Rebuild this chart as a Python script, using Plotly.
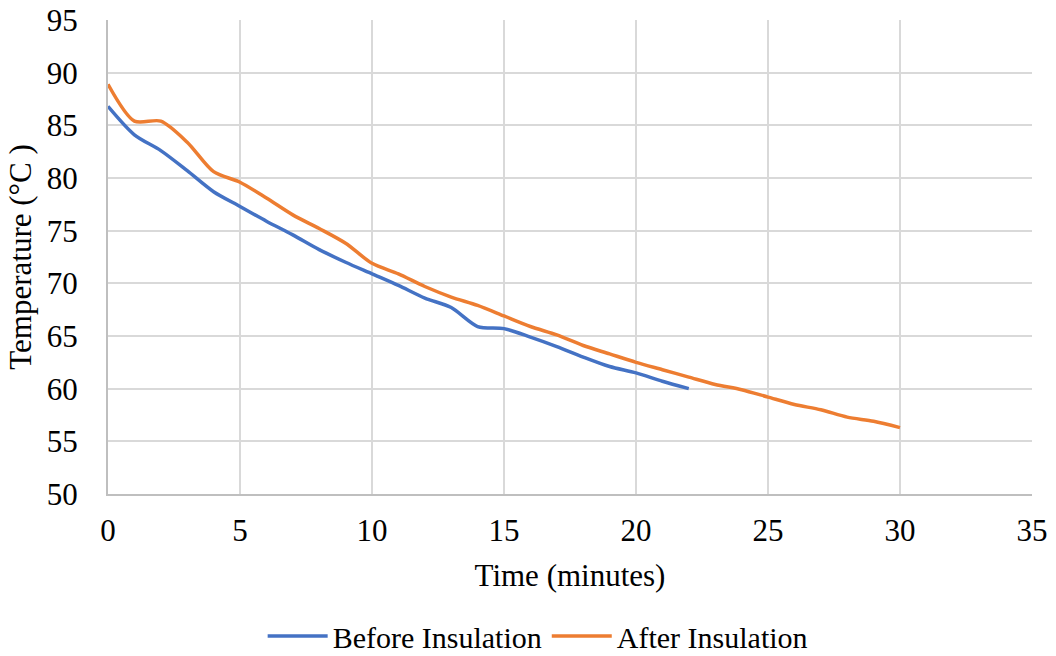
import plotly.graph_objects as go

time_before = list(range(0, 23))
temp_before = [86.8, 84.1, 82.6, 80.7, 78.7, 77.3, 75.9, 74.6, 73.2, 72.0, 70.9,
               69.8, 68.6, 67.7, 65.9, 65.7, 64.9, 64.0, 63.0, 62.1, 61.5, 60.7, 60.0]

time_after = list(range(0, 31))
temp_after = [88.9, 85.4, 85.4, 83.4, 80.6, 79.6, 78.1, 76.5, 75.2, 73.8, 71.9,
              70.9, 69.7, 68.7, 67.9, 66.9, 65.9, 65.1, 64.1, 63.3, 62.5,
              61.8, 61.1, 60.4, 59.9, 59.2, 58.5, 58.0, 57.3, 56.9, 56.3]

FONT = "Liberation Serif, Times New Roman, serif"

fig = go.Figure()
fig.add_trace(go.Scatter(x=time_before, y=temp_before, mode="lines", name="Before Insulation",
                         line=dict(color="#4472C4", width=3.5, shape="spline", smoothing=0.8)))
fig.add_trace(go.Scatter(x=time_after, y=temp_after, mode="lines", name="After Insulation",
                         line=dict(color="#ED7D31", width=3.5, shape="spline", smoothing=0.8)))

fig.update_layout(
    width=1056, height=656,
    margin=dict(l=108, r=24, t=20, b=162, autoexpand=False),
    paper_bgcolor="white", plot_bgcolor="white",
    font=dict(family=FONT, size=31, color="black"),
    showlegend=True,
    legend=dict(orientation="h", x=0.465, xanchor="center", xref="paper",
                y=20 / 656, yanchor="middle", yref="container",
                font=dict(family=FONT, size=30), itemwidth=60),
    xaxis=dict(range=[0, 35], dtick=5, tick0=0, showgrid=True, gridcolor="#D9D9D9", gridwidth=2,
               zeroline=False, showline=True, linecolor="#BFBFBF", linewidth=2,
               ticks="", tickfont=dict(size=31), ticklabelstandoff=8, automargin=False,
               title=dict(text="Time (minutes)", font=dict(size=31), standoff=17)),
    yaxis=dict(range=[50, 95], dtick=5, tick0=50, showgrid=True, gridcolor="#D9D9D9", gridwidth=2,
               zeroline=False, showline=True, linecolor="#BFBFBF", linewidth=2,
               ticks="", tickfont=dict(size=31), ticklabelstandoff=22, automargin=False,
               title=dict(text="Temperature (°C )", font=dict(size=31), standoff=6)),
)

fig.write_html("out.html")
